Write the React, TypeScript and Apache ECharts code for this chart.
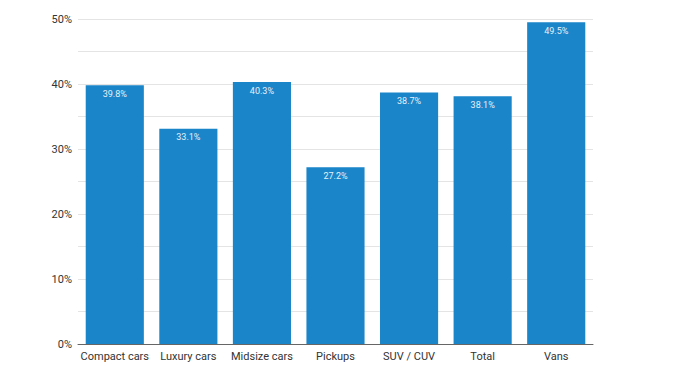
import React, { useEffect, useRef } from "react";
import * as echarts from "echarts";

const categories = ["Compact cars", "Luxury cars", "Midsize cars", "Pickups", "SUV / CUV", "Total", "Vans"];
const values = [39.8, 33.1, 40.3, 27.2, 38.7, 38.1, 49.5];

export default function App() {
  const ref = useRef<HTMLDivElement>(null);
  useEffect(() => {
    if (!ref.current) return;
    const chart = echarts.init(ref.current, null, { renderer: "svg" });
    chart.setOption({
      animation: false,
      textStyle: { fontFamily: "Roboto" },
      grid: { left: 78, right: 85, top: 19, bottom: 37 },
      xAxis: {
        type: "category",
        data: categories,
        axisTick: { show: false },
        axisLine: { lineStyle: { color: "#666", width: 1 } },
        axisLabel: { interval: 0, color: "#333", fontSize: 11, margin: 7, fontFamily: "Roboto" },
      },
      yAxis: {
        type: "value",
        min: 0,
        max: 50,
        interval: 5,
        axisLine: { show: false },
        axisTick: { show: false },
        splitLine: { lineStyle: { color: "#e4e4e4", width: 1 } },
        axisLabel: {
          color: "#333",
          fontSize: 11,
          margin: 6,
          fontFamily: "Roboto",
          formatter: (v: number) => (v % 10 === 0 ? v + "%" : ""),
        },
      },
      series: [
        {
          type: "bar",
          data: values,
          barCategoryGap: "21%",
          itemStyle: { color: "#1a85c8" },
          label: {
            show: true,
            position: "insideTop",
            distance: 4,
            color: "#e6f0fa",
            fontSize: 9,
            fontFamily: "Roboto",
            formatter: (p: any) => p.value.toFixed(1) + "%",
          },
        },
      ],
    });
    return () => chart.dispose();
  }, []);
  return <div ref={ref} style={{ width: 678, height: 381, position: "absolute", left: 0, top: 0 }} />;
}
